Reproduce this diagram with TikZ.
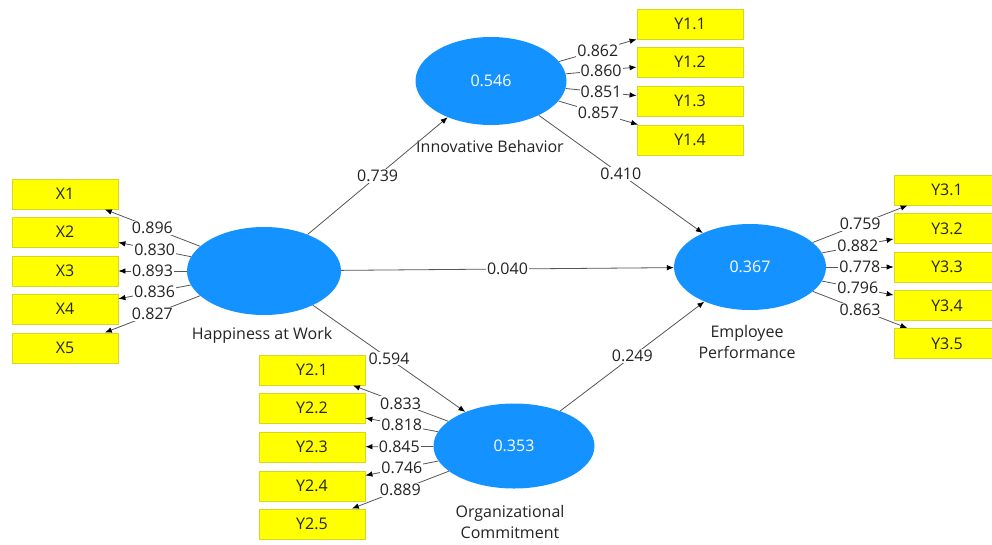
\documentclass[tikz,border=0pt]{standalone}
\usepackage{fontspec}
\setmainfont{Open Sans}
\usetikzlibrary{arrows.meta,shapes.geometric}
\definecolor{lvblue}{RGB}{20,146,255}
\definecolor{mvyellow}{RGB}{255,255,0}
\definecolor{mvborder}{RGB}{214,214,40}
\definecolor{linegray}{RGB}{85,85,85}
\definecolor{txt}{RGB}{35,35,35}
\tikzset{
  lv/.style={ellipse, fill=lvblue, draw=none, text=white, inner sep=0pt},
  mv/.style={rectangle, fill=mvyellow, draw=mvborder, line width=0.8pt, minimum width=106pt, minimum height=30pt, inner sep=0pt, text=txt},
  conn/.style={draw=linegray, line width=0.8pt, -{Latex[length=7pt,width=5.5pt,color=black]}},
  coef/.style={fill=white, inner sep=1pt, text=txt, midway},
  lvlabel/.style={text=txt, align=center, inner sep=0pt}
}
\begin{document}
\begin{tikzpicture}[x=1pt,y=-1pt,font=\fontsize{16}{20.5}\selectfont]
\useasboundingbox (0,0) rectangle (992,544);
% latent variables
\node[lv, minimum width=154pt, minimum height=88pt] (hap) at (264,271) {};
\node[lv, minimum width=151pt, minimum height=88pt] (inn) at (491,81) {0.546};
\node[lv, minimum width=152pt, minimum height=86pt] (emp) at (750,267) {0.367};
\node[lv, minimum width=161pt, minimum height=85pt] (org) at (514,446) {0.353};
% latent labels
\node[lvlabel] (haplab) at (262,335) {Happiness at Work};
\node[lvlabel] (innlab) at (490,146) {Innovative Behavior};
\node[lvlabel] (emplab) at (747,342) {Employee\\Performance};
\node[lvlabel] (orglab) at (510,522) {Organizational\\Commitment};
% indicators X
\node[mv] (x1) at (65,194) {X1};
\node[mv] (x2) at (65,232) {X2};
\node[mv] (x3) at (65,271) {X3};
\node[mv] (x4) at (65,309) {X4};
\node[mv] (x5) at (65,348) {X5};
% indicators Y1
\node[mv] (y11) at (690,24) {Y1.1};
\node[mv] (y12) at (690,62) {Y1.2};
\node[mv] (y13) at (690,101) {Y1.3};
\node[mv] (y14) at (690,140) {Y1.4};
% indicators Y2
\node[mv] (y21) at (312,370) {Y2.1};
\node[mv] (y22) at (312,408) {Y2.2};
\node[mv] (y23) at (312,447) {Y2.3};
\node[mv] (y24) at (312,486) {Y2.4};
\node[mv] (y25) at (312,524) {Y2.5};
% indicators Y3
\node[mv] (y31) at (947,190) {Y3.1};
\node[mv] (y32) at (947,228.5) {Y3.2};
\node[mv] (y33) at (947,267) {Y3.3};
\node[mv] (y34) at (947,305.5) {Y3.4};
\node[mv] (y35) at (947,343.5) {Y3.5};
% structural paths
\draw[conn] (hap) -- node[coef]{0.739} (inn);
\draw[conn] (hap) -- node[coef]{0.040} (emp);
\draw[conn] (hap) -- node[coef]{0.594} (org);
\draw[conn] (inn) -- node[coef]{0.410} (emp);
\draw[conn] (org) -- node[coef]{0.249} (emp);
% loadings X
\draw[conn] (hap) -- node[coef]{0.896} (x1);
\draw[conn] (hap) -- node[coef]{0.830} (x2);
\draw[conn] (hap) -- node[coef]{0.893} (x3);
\draw[conn] (hap) -- node[coef]{0.836} (x4);
\draw[conn] (hap) -- node[coef]{0.827} (x5);
% loadings Y1
\draw[conn] (inn) -- node[coef]{0.862} (y11);
\draw[conn] (inn) -- node[coef]{0.860} (y12);
\draw[conn] (inn) -- node[coef]{0.851} (y13);
\draw[conn] (inn) -- node[coef]{0.857} (y14);
% loadings Y2
\draw[conn] (org) -- node[coef]{0.833} (y21);
\draw[conn] (org) -- node[coef]{0.818} (y22);
\draw[conn] (org) -- node[coef]{0.845} (y23);
\draw[conn] (org) -- node[coef]{0.746} (y24);
\draw[conn] (org) -- node[coef]{0.889} (y25);
% loadings Y3
\draw[conn] (emp) -- node[coef]{0.759} (y31);
\draw[conn] (emp) -- node[coef]{0.882} (y32);
\draw[conn] (emp) -- node[coef]{0.778} (y33);
\draw[conn] (emp) -- node[coef]{0.796} (y34);
\draw[conn] (emp) -- node[coef]{0.863} (y35);
\end{tikzpicture}
\end{document}
